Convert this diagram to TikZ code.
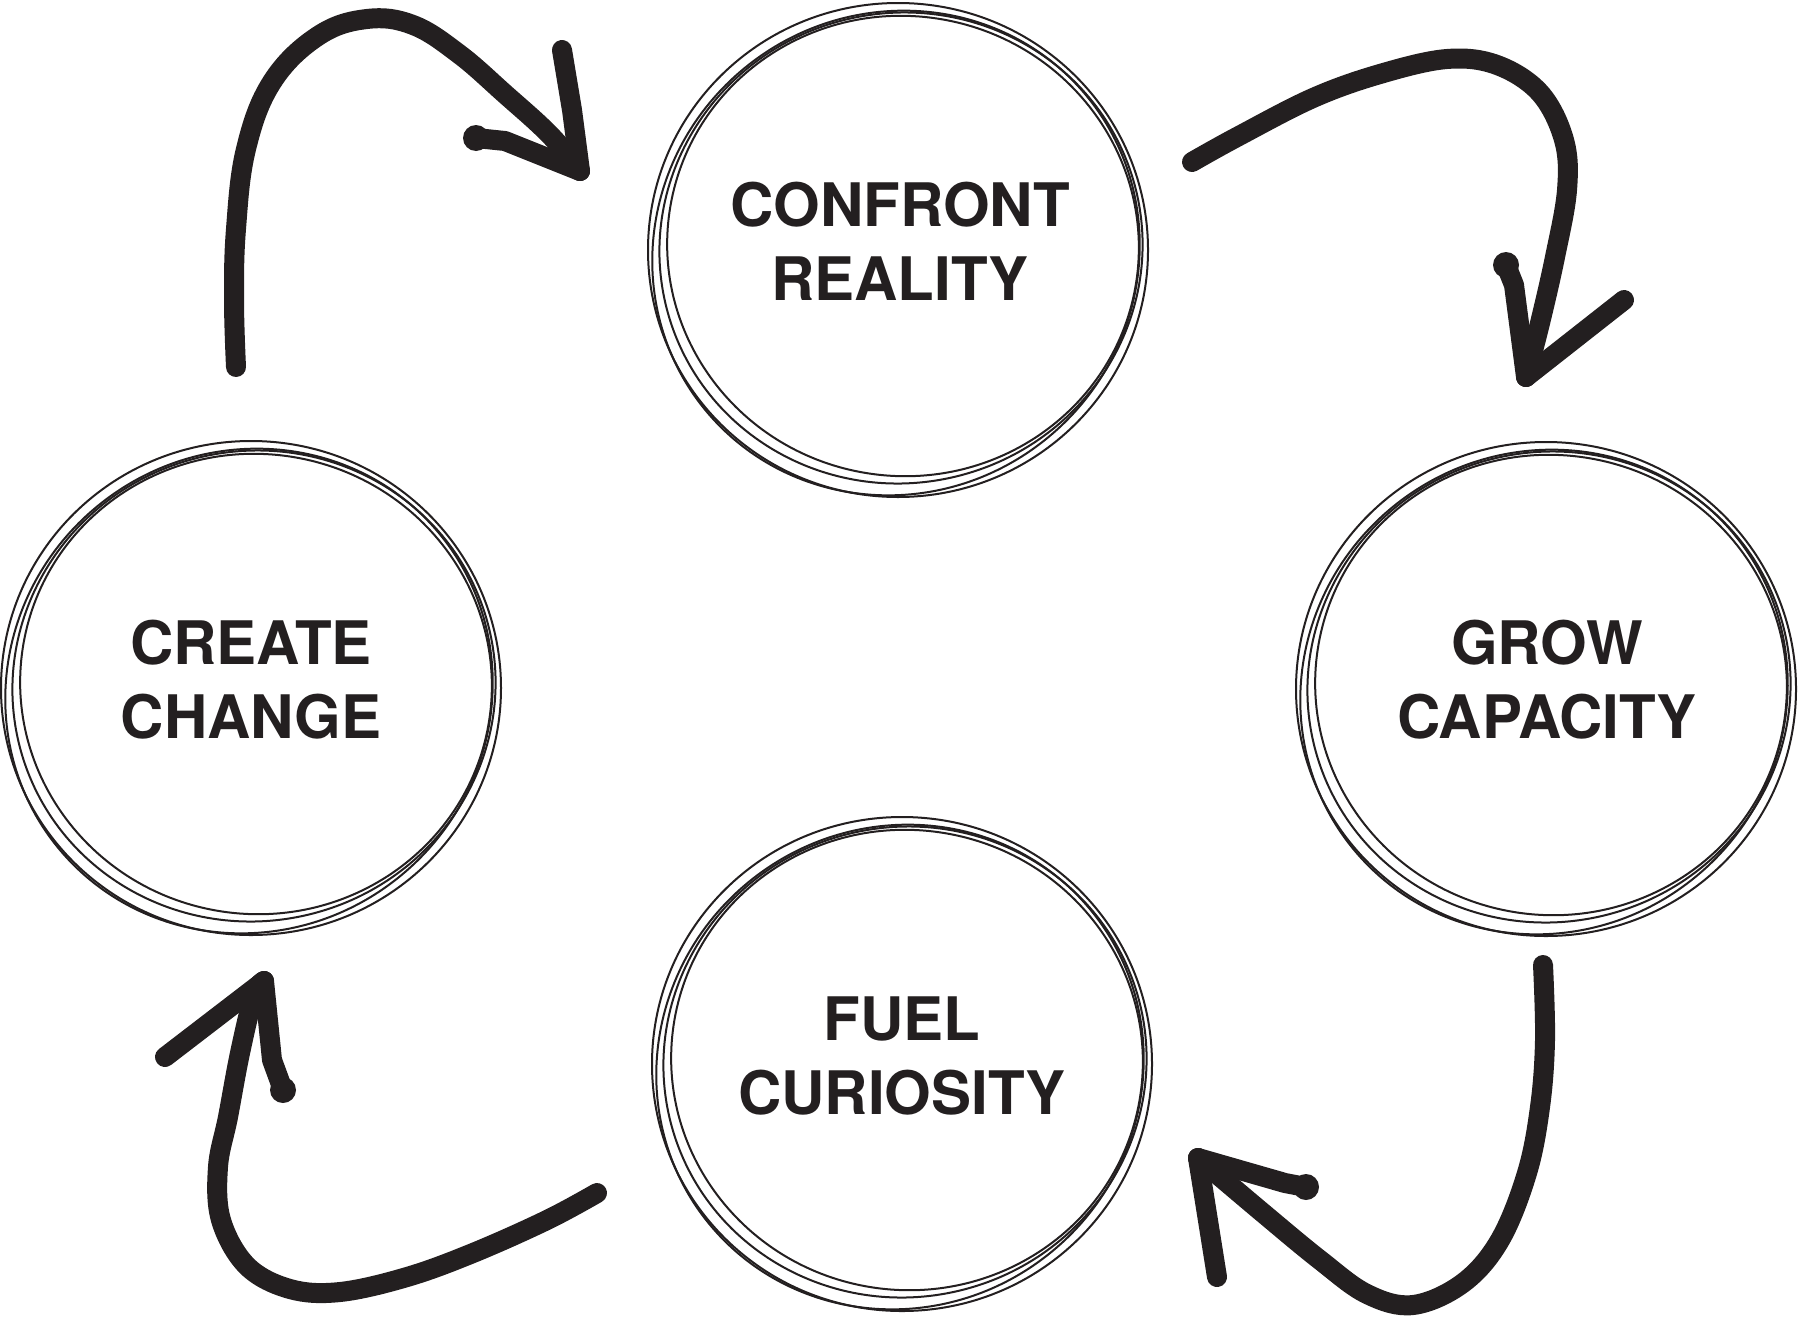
\documentclass[tikz,border=0pt]{standalone}
\usepackage{fontspec}
\setmainfont{TeX Gyre Heros}
\definecolor{ink}{RGB}{35,31,32}
\tikzset{
  lbl/.style={align=center, font=\fontsize{60}{74}\selectfont\bfseries, text=ink, inner sep=0pt},
  ringline/.style={line width=2pt, draw=ink},
  arrowline/.style={line width=20pt, line cap=round, line join=round, draw=ink},
  blob/.style={fill=ink},
  sketchring/.pic={
    \draw[ringline] (0,0) ellipse [x radius=250, y radius=247];
    \draw[ringline] (3,-2) ellipse [x radius=242, y radius=235, rotate=15];
    \draw[ringline] (5,-4) ellipse [x radius=236, y radius=230, rotate=-10];
    \draw[ringline] (-2,3) ellipse [x radius=247, y radius=239, rotate=40];
  }
}
\begin{document}
\begin{tikzpicture}[x=1pt,y=-1pt]
\useasboundingbox (0,0) rectangle (1798,1317);

% rings
\coordinate (confrontC) at (898,250);
\coordinate (createC) at (251,688);
\coordinate (growC) at (1546,689);
\coordinate (fuelC) at (902,1064);
\pic at (confrontC) {sketchring};
\pic at (createC) {sketchring};
\pic at (growC) {sketchring};
\pic at (fuelC) {sketchring};

% labels
\node[lbl] (confront) at (900,241) {CONFRONT\\REALITY};
\node[lbl] (create) at (251,680) {CREATE\\CHANGE};
\node[lbl] (grow) at (1547,680) {GROW\\CAPACITY};
\node[lbl] (fuel) at (902,1056) {FUEL\\CURIOSITY};

% arrow 1: create -> confront
\coordinate (a1s) at (236,367);
\coordinate (a1t) at (580,171);
\coordinate (a1u) at (562,50);
\coordinate (a1l) at (476,138);
\draw[arrowline] plot[smooth, tension=0.65] coordinates {(a1s) (234,300) (236,229) (246,149) (272,82) (318,36) (367,19) (413,25) (459,54) (505,94) (550,135) (a1t)};
\draw[arrowline] (a1t) -- (572,110) -- (a1u);
\draw[arrowline] (a1t) -- (505,141) -- (a1l);
\fill[blob] (a1l) circle (13);

% arrow 2: confront -> grow
\coordinate (a2s) at (1192,162);
\coordinate (a2t) at (1526,377);
\coordinate (a2l) at (1506,265);
\coordinate (a2r) at (1624,300);
\draw[arrowline] plot[smooth, tension=0.6] coordinates {(a2s) (1237,137) (1313,98) (1380,74) (1447,59) (1497,65) (1540,93) (1564,140) (1567,190) (1555,257) (1540,323) (a2t)};
\draw[arrowline] (a2t) -- (1514,285) -- (a2l);
\fill[blob] (a2l) circle (13);
\draw[arrowline] (a2t) -- (a2r);

% arrow 3: grow -> fuel
\coordinate (a3s) at (1543,965);
\coordinate (a3t) at (1198,1158);
\coordinate (a3d) at (1217,1277);
\coordinate (a3r) at (1306,1187);
\draw[arrowline] plot[smooth, tension=0.6] coordinates {(a3s) (1545,1040) (1540,1107) (1527,1173) (1500,1240) (1463,1283) (1413,1305) (1367,1294) (1320,1260) (1263,1213) (a3t)};
\draw[arrowline] (a3t) -- (a3d);
\draw[arrowline] (a3t) -- (1285,1183) -- (a3r);
\fill[blob] (a3r) circle (13);

% arrow 4: fuel -> create
\coordinate (a4s) at (597,1193);
\coordinate (a4t) at (264,981);
\coordinate (a4l) at (165,1057);
\coordinate (a4r) at (283,1090);
\draw[arrowline] plot[smooth, tension=0.6] coordinates {(a4s) (547,1220) (473,1253) (407,1277) (340,1292) (290,1289) (247,1266) (221,1220) (218,1167) (228,1117) (240,1053) (254,995) (a4t)};
\draw[arrowline] (a4t) -- (a4l);
\draw[arrowline] (a4t) -- (272,1060) -- (a4r);
\fill[blob] (a4r) circle (13);
\end{tikzpicture}
\end{document}
